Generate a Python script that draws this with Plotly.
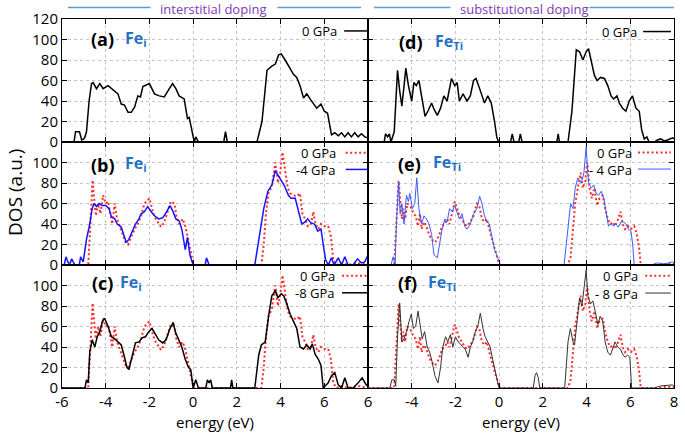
import plotly.graph_objects as go
from plotly.subplots import make_subplots

# ---------------- data (energy in eV, DOS in a.u.) ----------------
fe_i_0gpa_top = [(-6, 0), (-5.45, 0), (-5.38, 10), (-5.2, 10), (-5.1, 2), (-5.0, 3), (-4.95, 5), (-4.88, 10),
    (-4.76, 40), (-4.65, 57), (-4.58, 58), (-4.42, 52), (-4.27, 57), (-4.12, 52), (-3.89, 55), (-3.74, 52),
    (-3.44, 47), (-3.29, 37), (-3.14, 36), (-2.98, 29), (-2.83, 29), (-2.68, 34), (-2.53, 45), (-2.41, 44),
    (-2.30, 54), (-2.0, 57), (-1.77, 47), (-1.55, 45), (-1.32, 44), (-1.09, 52), (-0.94, 57), (-0.79, 52),
    (-0.64, 45), (-0.41, 42), (-0.26, 23), (-0.18, 24), (-0.03, 10), (0.05, 0), (0.12, 5), (0.24, 0),
    (1.4, 0), (1.48, 10), (1.56, 0), (2.92, 0), (3.15, 20), (3.38, 70), (3.6, 74), (3.76, 76), (3.91, 85),
    (4.03, 86), (4.21, 80), (4.36, 75), (4.48, 70), (4.59, 66), (4.74, 63), (4.89, 55), (5.05, 43), (5.2, 47),
    (5.35, 42), (5.5, 37), (5.65, 33), (5.85, 37), (6.0, 30), (6.15, 28), (6.26, 15), (6.33, 7), (6.48, 9),
    (6.64, 6), (6.79, 9), (6.94, 5), (7.09, 9), (7.24, 5), (7.39, 9), (7.55, 5), (7.7, 8), (7.85, 5), (8.0, 4)]

fe_i_0gpa = [(-6, 0), (-4.8, 0), (-4.7, 40), (-4.6, 83), (-4.53, 65), (-4.45, 48), (-4.35, 60), (-4.24, 50),
    (-4.12, 68), (-4.0, 60), (-3.89, 62), (-3.79, 50), (-3.7, 40), (-3.59, 60), (-3.48, 45), (-3.36, 38),
    (-3.21, 30), (-3.09, 22), (-2.98, 20), (-2.83, 27), (-2.68, 35), (-2.53, 40), (-2.38, 48), (-2.23, 60),
    (-2.12, 62), (-2.0, 65), (-1.88, 55), (-1.77, 47), (-1.62, 42), (-1.47, 37), (-1.32, 42), (-1.17, 52),
    (-1.02, 62), (-0.86, 60), (-0.76, 47), (-0.64, 40), (-0.48, 45), (-0.36, 38), (-0.26, 28), (-0.11, 15),
    (0.02, 0), (3.12, 0), (3.23, 20), (3.33, 50), (3.45, 70), (3.6, 77), (3.76, 100), (3.88, 80), (3.98, 90),
    (4.09, 110), (4.21, 90), (4.33, 75), (4.44, 70), (4.59, 68), (4.74, 67), (4.89, 70), (5.0, 50), (5.12, 45),
    (5.24, 38), (5.39, 40), (5.5, 52), (5.6, 40), (5.73, 35), (5.85, 40), (6.0, 38), (6.18, 38), (6.3, 28),
    (6.41, 5), (6.56, 0), (6.79, 2), (7.09, 0), (7.55, 2), (8.0, 0)]

fe_i_m4gpa = [(-6, 0), (-5.9, 0), (-5.82, 8), (-5.71, 2), (-5.62, 2), (-5.56, 6), (-5.41, 0), (-5.21, 0),
    (-5.15, 8), (-5.03, 3), (-4.88, 25), (-4.73, 40), (-4.62, 55), (-4.53, 60), (-4.42, 57), (-4.3, 60),
    (-4.15, 58), (-4.0, 58), (-3.85, 55), (-3.74, 47), (-3.59, 45), (-3.47, 40), (-3.29, 37), (-3.18, 30),
    (-3.06, 22), (-2.94, 25), (-2.79, 33), (-2.64, 40), (-2.48, 45), (-2.38, 50), (-2.23, 52), (-2.08, 57),
    (-1.92, 52), (-1.77, 48), (-1.58, 45), (-1.39, 46), (-1.21, 52), (-1.06, 58), (-0.94, 53), (-0.79, 45),
    (-0.64, 43), (-0.52, 35), (-0.36, 15), (-0.26, 27), (-0.15, 10), (-0.03, 2), (0.05, 0), (0.55, 0),
    (0.61, 7), (0.73, 0), (2.82, 0), (3.08, 35), (3.23, 55), (3.42, 72), (3.6, 78), (3.76, 92), (3.88, 88),
    (4.03, 82), (4.18, 77), (4.36, 68), (4.48, 65), (4.67, 65), (4.82, 52), (4.97, 40), (5.12, 42), (5.24, 45),
    (5.39, 41), (5.55, 40), (5.7, 33), (5.85, 35), (5.95, 20), (6.06, 5), (6.18, 0), (6.33, 7), (6.45, 0),
    (6.64, 7), (6.79, 0), (6.94, 8), (7.09, 0), (7.32, 0), (7.52, 6), (7.7, 2), (7.85, 3), (7.97, 10), (8.0, 10)]

fe_i_m8gpa = [(-6, 0), (-4.95, 0), (-4.88, 8), (-4.8, 5), (-4.73, 35), (-4.62, 47), (-4.5, 40), (-4.39, 50),
    (-4.27, 55), (-4.15, 65), (-4.05, 68), (-3.89, 60), (-3.74, 50), (-3.59, 48), (-3.44, 45), (-3.29, 42),
    (-3.14, 30), (-3.03, 20), (-2.94, 18), (-2.79, 32), (-2.64, 44), (-2.48, 45), (-2.33, 49), (-2.18, 50),
    (-2.03, 55), (-1.88, 58), (-1.73, 52), (-1.58, 47), (-1.39, 44), (-1.24, 47), (-1.06, 58), (-0.91, 64),
    (-0.82, 55), (-0.67, 47), (-0.52, 40), (-0.36, 28), (-0.21, 20), (-0.11, 18), (0.0, 0), (0.12, 8),
    (0.24, 0), (0.58, 0), (0.65, 8), (0.73, 5), (0.8, 8), (0.88, 0), (1.71, 0), (1.76, 8), (1.82, 0),
    (2.82, 0), (3.0, 32), (3.12, 42), (3.3, 45), (3.45, 70), (3.6, 90), (3.76, 95), (3.88, 88), (4.03, 92),
    (4.14, 90), (4.29, 82), (4.44, 72), (4.59, 65), (4.74, 58), (4.89, 40), (5.05, 38), (5.2, 42), (5.35, 38),
    (5.45, 43), (5.58, 33), (5.73, 28), (5.85, 22), (5.95, 0), (6.18, 5), (6.33, 12), (6.48, 15), (6.64, 3),
    (6.79, 0), (6.94, 10), (7.09, 0), (7.32, 0), (7.55, 5), (7.73, 10), (7.92, 3), (8.0, 2)]

fe_ti_0gpa_top = [(-6, 0), (-5.26, 0), (-5.2, 8), (-5.1, 5), (-5.02, 8), (-4.95, 0), (-4.8, 10), (-4.72, 45),
    (-4.65, 70), (-4.55, 50), (-4.45, 35), (-4.35, 55), (-4.27, 72), (-4.15, 55), (-4.0, 40), (-3.9, 58),
    (-3.79, 55), (-3.67, 60), (-3.55, 45), (-3.39, 25), (-3.24, 31), (-3.09, 38), (-2.98, 32), (-2.83, 26),
    (-2.68, 33), (-2.53, 45), (-2.38, 40), (-2.18, 62), (-2.03, 55), (-1.92, 58), (-1.82, 40), (-1.65, 47),
    (-1.47, 40), (-1.32, 45), (-1.17, 60), (-1.06, 62), (-0.94, 55), (-0.79, 45), (-0.67, 38), (-0.52, 45),
    (-0.36, 38), (-0.21, 20), (-0.11, 5), (-0.03, 0), (0.52, 0), (0.6, 8), (0.68, 0), (0.9, 0), (0.97, 8),
    (1.05, 0), (2.64, 0), (2.7, 8), (2.76, 0), (3.15, 0), (3.33, 30), (3.53, 90), (3.68, 88), (3.83, 80),
    (3.98, 88), (4.09, 91), (4.21, 80), (4.36, 65), (4.48, 60), (4.64, 63), (4.82, 62), (4.97, 55), (5.12, 45),
    (5.24, 42), (5.39, 45), (5.5, 38), (5.65, 33), (5.8, 30), (5.95, 40), (6.1, 45), (6.26, 33), (6.41, 30),
    (6.52, 12), (6.64, 3), (6.76, 5), (6.86, 0), (7.1, 0), (7.24, 2), (7.39, 3), (7.55, 1), (7.7, 2),
    (7.94, 4), (8.0, 3)]

fe_ti_0gpa = [(-6, 0), (-4.8, 0), (-4.73, 30), (-4.6, 82), (-4.53, 65), (-4.45, 45), (-4.38, 55), (-4.3, 45),
    (-4.2, 60), (-4.09, 58), (-4.0, 55), (-3.92, 50), (-3.82, 48), (-3.71, 38), (-3.62, 50), (-3.55, 35),
    (-3.44, 42), (-3.33, 38), (-3.21, 30), (-3.09, 25), (-2.94, 22), (-2.83, 25), (-2.73, 30), (-2.61, 38),
    (-2.48, 40), (-2.38, 45), (-2.27, 40), (-2.15, 52), (-2.03, 62), (-1.92, 55), (-1.82, 48), (-1.7, 45),
    (-1.58, 40), (-1.47, 38), (-1.32, 42), (-1.17, 48), (-1.02, 60), (-0.91, 58), (-0.79, 45), (-0.67, 42),
    (-0.56, 45), (-0.45, 35), (-0.33, 25), (-0.21, 15), (-0.06, 5), (0.05, 0), (3.15, 0), (3.27, 8),
    (3.38, 35), (3.48, 60), (3.6, 75), (3.73, 90), (3.83, 75), (3.94, 82), (4.03, 100), (4.14, 75),
    (4.24, 65), (4.36, 75), (4.48, 58), (4.59, 65), (4.74, 68), (4.85, 55), (4.97, 45), (5.09, 40), (5.2, 42),
    (5.3, 38), (5.45, 45), (5.55, 52), (5.65, 40), (5.76, 35), (5.88, 38), (6.03, 35), (6.18, 38), (6.3, 30),
    (6.41, 15), (6.48, 0), (7.3, 0), (7.6, 1), (8.0, 1)]

fe_ti_m4gpa = [(-6, 0), (-4.95, 0), (-4.85, 8), (-4.76, 0), (-4.7, 40), (-4.6, 82), (-4.53, 50), (-4.45, 60),
    (-4.35, 40), (-4.24, 68), (-4.15, 62), (-4.09, 70), (-3.97, 55), (-3.86, 60), (-3.77, 85), (-3.67, 55),
    (-3.55, 40), (-3.44, 48), (-3.33, 45), (-3.21, 40), (-3.09, 30), (-2.98, 10), (-2.83, 7), (-2.73, 18),
    (-2.61, 35), (-2.48, 45), (-2.38, 42), (-2.27, 55), (-2.15, 52), (-2.03, 58), (-1.92, 50), (-1.82, 45),
    (-1.7, 50), (-1.58, 38), (-1.47, 35), (-1.32, 40), (-1.17, 50), (-1.02, 55), (-0.89, 67), (-0.79, 60),
    (-0.67, 48), (-0.56, 42), (-0.45, 40), (-0.33, 28), (-0.21, 15), (-0.06, 7), (0.05, 0), (2.97, 0),
    (3.15, 40), (3.27, 60), (3.38, 55), (3.48, 75), (3.6, 85), (3.76, 80), (3.88, 90), (3.98, 115),
    (4.09, 80), (4.21, 75), (4.33, 78), (4.44, 70), (4.55, 68), (4.67, 72), (4.79, 65), (4.89, 50), (5.0, 38),
    (5.12, 40), (5.24, 38), (5.35, 40), (5.45, 37), (5.58, 42), (5.7, 42), (5.8, 40), (5.91, 35), (6.03, 33),
    (6.11, 20), (6.18, 0), (6.94, 0), (7.24, 2), (7.55, 1), (7.92, 3), (8.0, 2)]

fe_ti_m8gpa = [(-6, 0), (-5.0, 0), (-4.91, 8), (-4.8, 8), (-4.73, 2), (-4.65, 50), (-4.55, 83), (-4.45, 45),
    (-4.35, 48), (-4.24, 55), (-4.12, 65), (-4.02, 72), (-3.92, 58), (-3.82, 60), (-3.71, 75), (-3.62, 60),
    (-3.52, 48), (-3.41, 55), (-3.29, 40), (-3.18, 35), (-3.06, 25), (-2.94, 12), (-2.8, 5), (-2.68, 20),
    (-2.58, 40), (-2.45, 50), (-2.35, 45), (-2.23, 52), (-2.12, 40), (-2.0, 50), (-1.88, 45), (-1.77, 43),
    (-1.67, 40), (-1.55, 38), (-1.42, 30), (-1.32, 40), (-1.21, 45), (-1.09, 55), (-0.98, 60), (-0.86, 73),
    (-0.74, 58), (-0.64, 50), (-0.52, 45), (-0.41, 40), (-0.3, 28), (-0.18, 15), (-0.06, 5), (0.0, 0),
    (1.56, 0), (1.64, 12), (1.71, 15), (1.79, 10), (1.86, 0), (3.0, 0), (3.15, 45), (3.26, 58), (3.38, 45),
    (3.45, 42), (3.58, 65), (3.68, 88), (3.79, 80), (3.88, 100), (3.98, 115), (4.06, 90), (4.18, 82),
    (4.29, 85), (4.39, 75), (4.52, 62), (4.62, 70), (4.74, 65), (4.85, 45), (4.97, 35), (5.09, 32), (5.2, 38),
    (5.3, 45), (5.42, 40), (5.55, 38), (5.65, 33), (5.76, 30), (5.88, 32), (5.98, 30), (6.06, 0), (7.09, 0),
    (7.39, 2), (7.92, 3), (8.0, 2)]

x_ticks = [-6, -4, -2, 0, 2, 4, 6, 8]
x_text_left = ["-6", "-4", "-2", "0", "2", "4", "6", " "]
x_text_right = ["6", "-4", "-2", "0", "2", "4", "6", "8"]
y_ticks_top = [0, 20, 40, 60, 80, 100, 120]
y_ticks_low = [0, 20, 40, 60, 80, 100]

panel_letters = ["(a)", "(d)", "(b)", "(e)", "(c)", "(f)"]
panel_species = ["Fe<sub>i</sub>", "Fe<sub>Ti</sub>", "Fe<sub>i</sub>", "Fe<sub>Ti</sub>",
                 "Fe<sub>i</sub>", "Fe<sub>Ti</sub>"]

# ---------------- styles ----------------
RED = "#ff2a2a"
BLUE = "#1414ff"
LBLUE = "#3b5bff"
FONT = "Open Sans"
RED_DOT = "2px,2.5px"

fig = make_subplots(rows=3, cols=2, horizontal_spacing=0, vertical_spacing=0)


def add(pts, row, col, color, width, dash="solid"):
    xs = [p[0] for p in pts]
    ys = [p[1] for p in pts]
    fig.add_trace(go.Scatter(x=xs, y=ys, mode="lines", showlegend=False, hoverinfo="skip",
                             line=dict(color=color, width=width, dash=dash)), row=row, col=col)


add(fe_i_0gpa_top, 1, 1, "black", 1.5)
add(fe_ti_0gpa_top, 1, 2, "black", 1.5)
add(fe_i_0gpa, 2, 1, RED, 2, RED_DOT)
add(fe_i_m4gpa, 2, 1, BLUE, 1.5)
add(fe_ti_0gpa, 2, 2, RED, 2, RED_DOT)
add(fe_ti_m4gpa, 2, 2, LBLUE, 1)
add(fe_i_0gpa, 3, 1, RED, 2, RED_DOT)
add(fe_i_m8gpa, 3, 1, "black", 1.5)
add(fe_ti_0gpa, 3, 2, RED, 2, RED_DOT)
add(fe_ti_m8gpa, 3, 2, "#333333", 1)

axis_common = dict(showline=True, linecolor="black", linewidth=1, mirror="ticks", ticks="inside",
                   ticklen=5, tickcolor="black", tickwidth=1, showgrid=True, gridcolor="#c4c4c4",
                   griddash="dot", gridwidth=1, zeroline=False,
                   tickfont=dict(family=FONT, size=15, color="black"))

for row in (1, 2, 3):
    for col in (1, 2):
        if row == 3:
            ttext = x_text_left if col == 1 else x_text_right
            fig.update_xaxes(range=[-6, 8], tickvals=x_ticks, ticktext=ttext, showticklabels=True,
                             row=row, col=col, **axis_common)
        else:
            fig.update_xaxes(range=[-6, 8], tickvals=x_ticks, showticklabels=False,
                             row=row, col=col, **axis_common)
        yt = y_ticks_top if row == 1 else y_ticks_low
        fig.update_yaxes(range=[0, 120], tickvals=yt, showticklabels=(col == 1),
                         row=row, col=col, **axis_common)

annotations = []
shapes = []

# panel labels
letter_pos = {1: (0.088, 0.835), 2: (0.094, 0.81), 3: (0.088, 0.815), 4: (0.091, 0.82),
              5: (0.091, 0.85), 6: (0.091, 0.85)}
species_pos = {1: 0.198, 2: 0.214, 3: 0.198, 4: 0.207, 5: 0.182, 6: 0.188}
for i in range(6):
    k = i + 1
    sx = "x" if k == 1 else f"x{k}"
    sy = "y" if k == 1 else f"y{k}"
    lx, ly = letter_pos[k]
    annotations.append(dict(text=f"<b>{panel_letters[i]}</b>", xref=f"{sx} domain", yref=f"{sy} domain",
                            x=lx, y=ly, xanchor="left", yanchor="middle", showarrow=False,
                            font=dict(family=FONT, size=18, color="black")))
    annotations.append(dict(text=f"<b>{panel_species[i]}</b>", xref=f"{sx} domain", yref=f"{sy} domain",
                            x=species_pos[k], y=ly + 0.01, xanchor="left", yanchor="middle", showarrow=False,
                            font=dict(family=FONT, size=16, color="#1f74c6")))

# legends (text left, sample right)
legend_specs = [
    (1, 0.902, 0.922, 0.997, [(0.903, "0 GPa", "black", 1.5, "solid")]),
    (2, 0.8825, 0.899, 0.99, [(0.898, "0 GPa", "black", 1.5, "solid")]),
    (3, 0.9, 0.927, 0.998, [(0.912, "0 GPa", RED, 2, RED_DOT), (0.777, "-4 GPa", BLUE, 1.5, "solid")]),
    (4, 0.866, 0.8825, 0.99, [(0.915, "0 GPa", RED, 2, RED_DOT), (0.78, "- 4 GPa", LBLUE, 1, "solid")]),
    (5, 0.895, 0.915, 0.999, [(0.912, "0 GPa", RED, 2, RED_DOT), (0.774, "-8 GPa", "black", 1.5, "solid")]),
    (6, 0.887, 0.906, 0.99, [(0.912, "0 GPa", RED, 2, RED_DOT), (0.772, "- 8 GPa", "#333333", 1, "solid")]),
]
for k, tx, l0, l1, entries in legend_specs:
    sx = "x" if k == 1 else f"x{k}"
    sy = "y" if k == 1 else f"y{k}"
    for yy, txt, colr, w, dsh in entries:
        annotations.append(dict(text=txt, xref=f"{sx} domain", yref=f"{sy} domain", x=tx, y=yy,
                                xanchor="right", yanchor="middle", showarrow=False,
                                height=15, borderpad=0, valign="middle",
                                font=dict(family=FONT, size=13, color="black")))
        shapes.append(dict(type="line", xref=f"{sx} domain", yref=f"{sy} domain", x0=l0, x1=l1,
                           y0=yy, y1=yy, line=dict(color=colr, width=w, dash=dsh)))

# axis titles
annotations.append(dict(text="DOS (a.u.)", xref="paper", yref="paper", x=-0.076, y=0.53,
                        textangle=-90, showarrow=False, xanchor="center", yanchor="middle",
                        font=dict(family=FONT, size=19, color="black")))
for cx in (0.25, 0.75):
    annotations.append(dict(text="energy (eV)", xref="paper", yref="paper", x=cx, y=0,
                            yshift=-34, xanchor="center", yanchor="middle", showarrow=False,
                            font=dict(family=FONT, size=15, color="black")))

# headers
PURPLE = "#7a3db3"
HLINE = "#5b9bd5"
annotations.append(dict(text="interstitial doping", xref="paper", yref="paper", x=0.247, y=1.027,
                        xanchor="center", yanchor="middle", showarrow=False,
                        font=dict(family=FONT, size=13, color=PURPLE)))
annotations.append(dict(text="substitutional doping", xref="paper", yref="paper", x=0.755, y=1.027,
                        xanchor="center", yanchor="middle", showarrow=False,
                        font=dict(family=FONT, size=13, color=PURPLE)))
for a, b in [(0.0097, 0.1445), (0.352, 0.4886), (0.5097, 0.6347), (0.862, 1.0)]:
    shapes.append(dict(type="line", xref="paper", yref="paper", x0=a, x1=b, y0=1.031, y1=1.031,
                       line=dict(color=HLINE, width=1.5)))

fig.update_layout(width=685, height=435, margin=dict(l=62, r=7, t=19, b=47),
                  paper_bgcolor="white", plot_bgcolor="white", showlegend=False,
                  annotations=annotations, shapes=shapes,
                  font=dict(family=FONT, color="black"))

fig.write_html("out.html", config={"displayModeBar": False},
               post_script="document.body.style.margin='0';document.body.style.padding='0';")
